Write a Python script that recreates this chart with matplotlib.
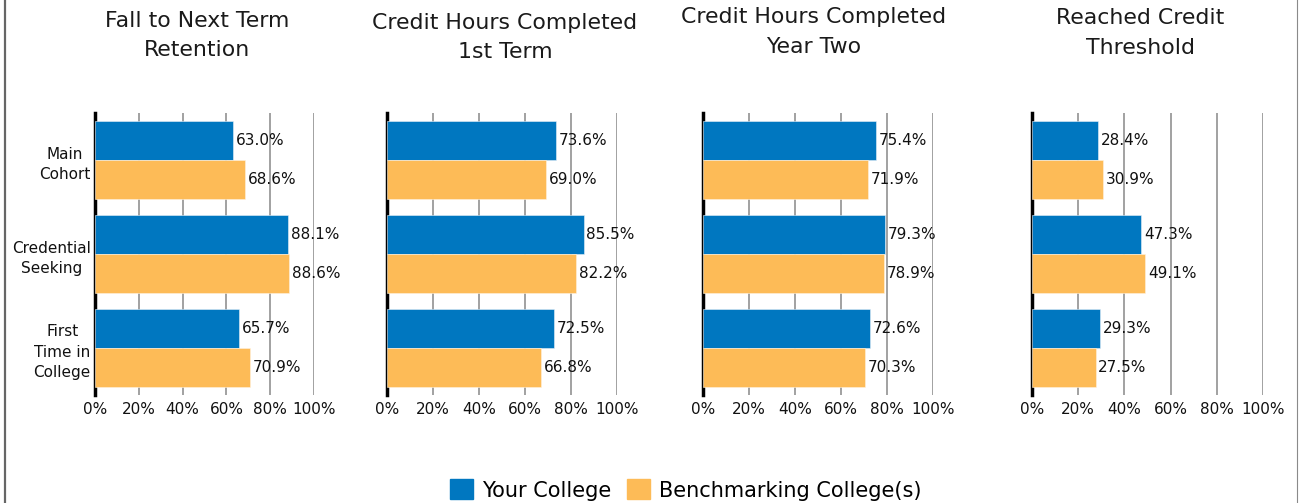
import matplotlib
matplotlib.use("Agg")
import matplotlib.pyplot as plt
from matplotlib.patches import Patch
from matplotlib.lines import Line2D
import numpy as np

plt.rcParams["font.family"] = ["DejaVu Sans"]
plt.rcParams["font.sans-serif"] = ["DejaVu Sans"]

categories = ["Main\nCohort", "Credential\nSeeking", "First\nTime in\nCollege"]
titles = ["Fall to Next Term\nRetention", "Credit Hours Completed\n1st Term",
          "Credit Hours Completed\nYear Two", "Reached Credit\nThreshold"]
your_college = [
    [63.0, 88.1, 65.7],
    [73.6, 85.5, 72.5],
    [75.4, 79.3, 72.6],
    [28.4, 47.3, 29.3],
]
benchmark = [
    [68.6, 88.6, 70.9],
    [69.0, 82.2, 66.8],
    [71.9, 78.9, 70.3],
    [30.9, 49.1, 27.5],
]
series_names = ["Your College", "Benchmarking College(s)"]
xticks = [0, 20, 40, 60, 80, 100]

BLUE = "#0077C0"
ORANGE = "#FDBB57"
FAM = ["DejaVu Sans"]
FS = 11

W, H = 1300, 503
fig = plt.figure(figsize=(13, 5.03), dpi=100)

# axes pixel extents (left, right)
ax_px = [(95, 314), (387, 617), (703, 933), (1032, 1263)]
title_cx = [197, 505, 814, 1140]
title_cy = [35.5, 37.5, 32, 33]
top_px, bot_px = 113, 395

y = np.arange(len(categories))
bh = 0.42
for i, (l, r) in enumerate(ax_px):
    ax = fig.add_axes([l / W, 1 - bot_px / H, (r - l) / W, (bot_px - top_px) / H])
    b1 = ax.barh(y - bh / 2, your_college[i], height=bh, color=BLUE,
                 edgecolor="#e8f0f8", linewidth=0.4, zorder=3)
    b2 = ax.barh(y + bh / 2, benchmark[i], height=bh, color=ORANGE,
                 edgecolor="#fff3e0", linewidth=0.4, zorder=3)
    ax.bar_label(b1, labels=[f"{v:.1f}%" for v in your_college[i]], padding=2,
                 fontsize=FS, color="#111111", family=FAM)
    ax.bar_label(b2, labels=[f"{v:.1f}%" for v in benchmark[i]], padding=2,
                 fontsize=FS, color="#111111", family=FAM)
    ax.set_xlim(0, 100)
    ax.set_ylim(2.5, -0.5)
    ax.set_xticks(xticks)
    ax.set_xticklabels([f"{t}%" for t in xticks], fontsize=FS, color="#111111",
                       family=FAM)
    ax.tick_params(axis="x", length=0, pad=5)
    ax.grid(axis="x", color="#9a9a9a", linewidth=1.3, zorder=1)
    ax.set_axisbelow(True)
    for s in ["top", "right", "bottom"]:
        ax.spines[s].set_visible(False)
    ax.spines["left"].set_color("black")
    ax.spines["left"].set_linewidth(2.5)
    ax.spines["left"].set_zorder(2)
    if i == 0:
        ax.set_yticks(y)
        ax.set_yticklabels(categories, fontsize=FS, color="#111111", family=FAM,
                           multialignment="center", linespacing=1.45)
        ax.tick_params(axis="y", length=0, pad=3)
    else:
        ax.set_yticks([])
    fig.text(title_cx[i] / W, 1 - title_cy[i] / H, titles[i], ha="center", va="center",
             fontsize=15.8, color="#1a1a1a", linespacing=1.6, family=FAM)

handles = [Patch(facecolor=BLUE, edgecolor=BLUE), Patch(facecolor=ORANGE, edgecolor=ORANGE)]
fig.legend(handles, series_names, loc="center", bbox_to_anchor=(686 / W, 1 - 490 / H),
           ncol=2, frameon=False, handlelength=1.1, handleheight=1.1,
           handletextpad=0.45, columnspacing=0.75, borderaxespad=0, borderpad=0,
           prop={"family": FAM, "size": 15})

fig.add_artist(Line2D([5 / W, 5 / W], [0, 1], color="#666666", linewidth=1.6,
                      transform=fig.transFigure))
fig.add_artist(Line2D([1297 / W, 1297 / W], [0, 1], color="#8a8a8a", linewidth=0.8,
                      transform=fig.transFigure))

fig.savefig("out.png", dpi=100, facecolor="white")
